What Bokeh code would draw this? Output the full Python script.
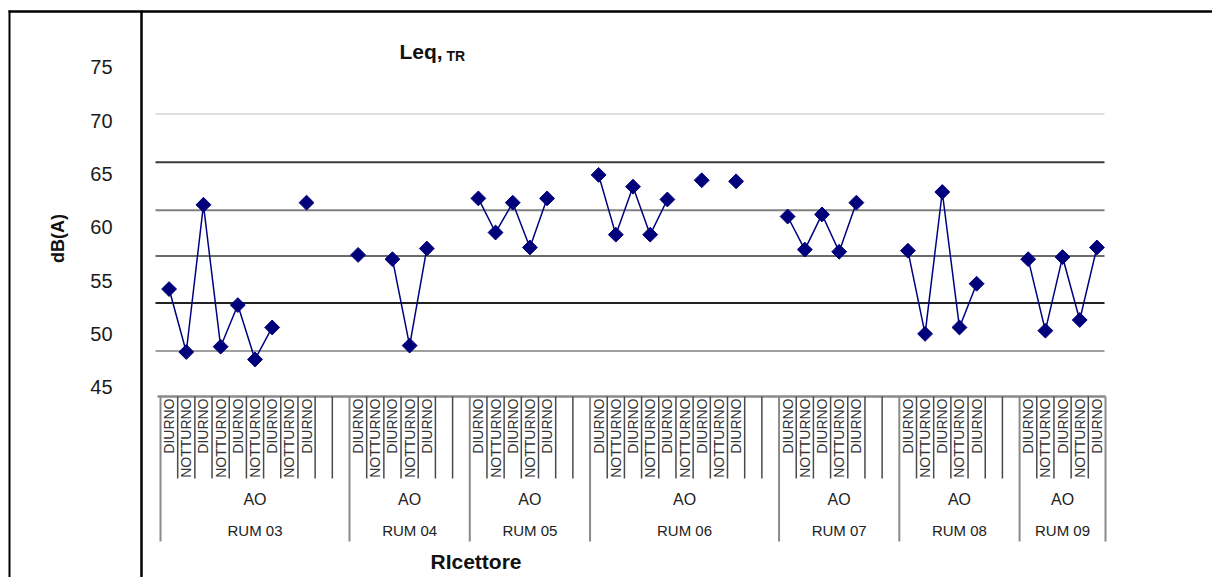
import math
from bokeh.plotting import figure
from bokeh.models import Range1d
from bokeh.core.properties import value
from bokeh.embed import file_html
from bokeh.resources import INLINE

# ---------------- data ----------------
TITLE_MAIN = "Leq,"
TITLE_SUB = "TR"
Y_LABEL = "dB(A)"
X_LABEL = "RIcettore"
Y_TICKS = [45, 50, 55, 60, 65, 70, 75]

GROUPS = ["RUM 03", "RUM 04", "RUM 05", "RUM 06", "RUM 07", "RUM 08", "RUM 09"]
SUBGROUPS = ["AO", "AO", "AO", "AO", "AO", "AO", "AO"]

rum03_periods = ["DIURNO", "NOTTURNO", "DIURNO", "NOTTURNO", "DIURNO", "NOTTURNO", "DIURNO", "NOTTURNO", "DIURNO", "", ""]
rum04_periods = ["DIURNO", "NOTTURNO", "DIURNO", "NOTTURNO", "DIURNO", "", ""]
rum05_periods = ["DIURNO", "NOTTURNO", "DIURNO", "NOTTURNO", "DIURNO", "", ""]
rum06_periods = ["DIURNO", "NOTTURNO", "DIURNO", "NOTTURNO", "DIURNO", "NOTTURNO", "DIURNO", "NOTTURNO", "DIURNO", "", ""]
rum07_periods = ["DIURNO", "NOTTURNO", "DIURNO", "NOTTURNO", "DIURNO", "", ""]
rum08_periods = ["DIURNO", "NOTTURNO", "DIURNO", "NOTTURNO", "DIURNO", "", ""]
rum09_periods = ["DIURNO", "NOTTURNO", "DIURNO", "NOTTURNO", "DIURNO"]

rum03_leq = [54.2, 48.3, 62.1, 48.8, 52.7, 47.6, 50.6, None, 62.3, None, None]
rum04_leq = [57.4, None, 57.0, 48.9, 58.0, None, None]
rum05_leq = [62.7, 59.5, 62.3, 58.1, 62.7, None, None]
rum06_leq = [64.9, 59.3, 63.8, 59.3, 62.6, None, 64.4, None, 64.3, None, None]
rum07_leq = [61.0, 57.9, 61.2, 57.7, 62.3, None, None]
rum08_leq = [57.8, 50.0, 63.3, 50.6, 54.7, None, None]
rum09_leq = [57.0, 50.3, 57.2, 51.3, 58.1]

PERIODS = [rum03_periods, rum04_periods, rum05_periods, rum06_periods,
           rum07_periods, rum08_periods, rum09_periods]
LEQ = [rum03_leq, rum04_leq, rum05_leq, rum06_leq, rum07_leq, rum08_leq, rum09_leq]

GRID_DB = [70.6, 66.1, 61.6, 57.3, 52.9, 48.4]

# ---------------- layout helpers (page pixels -> data) ----------------
W, H = 1212, 577
SLOT = (1105 - 160) / 55.0
PX_PER_DB = 10.667
Y45 = 386.7


def xd(px):
    return (px - 160) / SLOT


def yd(py):
    return 45 + (Y45 - py) / PX_PER_DB


FONT = value("Liberation Sans")

p = figure(width=W, height=H, output_backend="svg", toolbar_location=None,
           x_range=Range1d(xd(0), xd(W)), y_range=Range1d(yd(H), yd(0)),
           x_axis_location=None, y_axis_location=None, min_border=0,
           outline_line_color=None, background_fill_color="white",
           border_fill_color="white")
p.xgrid.visible = False
p.ygrid.visible = False

# table borders
p.segment(x0=[xd(8)], y0=[yd(11)], x1=[xd(W)], y1=[yd(11)], line_color="black", line_width=2.5)
p.segment(x0=[xd(9)], y0=[yd(10)], x1=[xd(9)], y1=[yd(H)], line_color="black", line_width=2)
p.segment(x0=[xd(141)], y0=[yd(10)], x1=[xd(141)], y1=[yd(H)], line_color="black", line_width=2.5)

# gridlines
grid_colors = ["#e0e0e0", "#3a3a3a", "#808080", "#6a6a6a", "#222222", "#a0a0a0"]
p.segment(x0=[xd(155)] * len(GRID_DB), y0=GRID_DB, x1=[xd(1104)] * len(GRID_DB), y1=GRID_DB,
          line_color=grid_colors, line_width=2)

# y tick labels
p.text(x=[xd(112)] * len(Y_TICKS), y=Y_TICKS, text=[str(t) for t in Y_TICKS],
       text_font=FONT, text_font_size="20px", text_align="right", text_baseline="middle",
       text_color="#1a1a1a")
# y axis label
p.text(x=[xd(57)], y=[yd(238)], text=[Y_LABEL], angle=math.pi / 2,
       text_font=FONT, text_font_size="18px", text_font_style="bold",
       text_align="center", text_baseline="middle", text_color="#111111")

# title
p.text(x=[xd(399)], y=[yd(51)], text=[TITLE_MAIN], text_font=FONT, text_font_size="21px",
       text_font_style="bold", text_align="left", text_baseline="middle", text_color="#111111")
p.text(x=[xd(446)], y=[yd(55.5)], text=[TITLE_SUB], text_font=FONT, text_font_size="14px",
       text_font_style="bold", text_align="left", text_baseline="middle", text_color="#111111")

# category axis
n_total = sum(len(g) for g in PERIODS)
p.segment(x0=[xd(157)], y0=[yd(396)], x1=[n_total], y1=[yd(396)], line_color="#8a8a8a", line_width=2.5)

xs, ys = [], []
lab_x, lab_t = [], []
tick_x = []
bound_x = []
grp_cx = []
start = 0
for periods, vals in zip(PERIODS, LEQ):
    n = len(periods)
    bound_x.append(start)
    for i in range(n):
        xs.append(start + i + 0.5)
        ys.append(float("nan") if vals[i] is None else vals[i])
        if periods[i]:
            lab_x.append(start + i + 0.5)
            lab_t.append(periods[i])
        if i > 0:
            tick_x.append(start + i)
    grp_cx.append(start + n / 2.0)
    start += n
bound_x.append(start)

p.segment(x0=tick_x, y0=[yd(396)] * len(tick_x), x1=tick_x, y1=[yd(478)] * len(tick_x),
          line_color="#4a4a4a", line_width=1.5)
p.segment(x0=bound_x, y0=[yd(396)] * len(bound_x), x1=bound_x, y1=[yd(541)] * len(bound_x),
          line_color="#8a8a8a", line_width=2)

p.text(x=lab_x, y=[yd(398)] * len(lab_x), text=lab_t, angle=math.pi / 2,
       text_font=FONT, text_font_size="14px", text_align="right", text_baseline="middle",
       text_color="#333333")
p.text(x=grp_cx, y=[yd(499)] * len(grp_cx), text=SUBGROUPS, text_font=FONT,
       text_font_size="16px", text_align="center", text_baseline="middle", text_color="#222222")
p.text(x=grp_cx, y=[yd(530)] * len(grp_cx), text=GROUPS, text_font=FONT,
       text_font_size="15px", text_align="center", text_baseline="middle", text_color="#222222")

# x axis label
p.text(x=[xd(430)], y=[yd(561)], text=[X_LABEL], text_font=FONT, text_font_size="21px",
       text_font_style="bold", text_align="left", text_baseline="middle", text_color="#111111")

# series
p.line(xs, ys, line_color="#000080", line_width=1.5)
px_, py_ = zip(*[(x, y) for x, y in zip(xs, ys) if not math.isnan(y)])
p.scatter(list(px_), list(py_), marker="square", angle=math.pi / 4, size=10.5,
          fill_color="#00007a", line_color="#00007a")

open("out.html", "w").write(file_html(p, INLINE))
